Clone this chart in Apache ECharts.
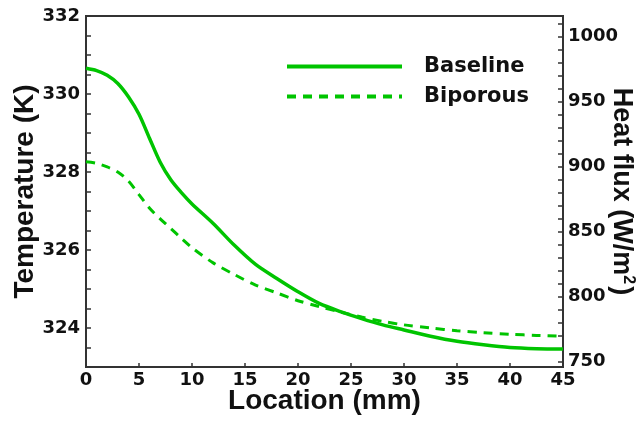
<!DOCTYPE html>
<html>
<head>
<meta charset="utf-8">
<script src="https://cdn.jsdelivr.net/npm/echarts@6/dist/echarts.min.js"></script>
<style>html,body{margin:0;padding:0;background:#fff}#c{width:644px;height:423px}</style>
</head>
<body>
<div id="c"></div>
<script>
var seriesNames = ['Baseline', 'Biporous'];
var location_mm = [0,1,2,3,4,5,6,7,8,9,10,12,14,16,18,20,22,24,26,28,30,32.5,35,37.5,40,42.5,45];
var baseline = [330.66,330.6,330.48,330.27,329.93,329.48,328.86,328.25,327.8,327.47,327.18,326.68,326.12,325.63,325.27,324.93,324.63,324.42,324.24,324.08,323.95,323.79,323.66,323.57,323.5,323.47,323.46];
var biporous = [328.26,328.22,328.13,328.0,327.77,327.42,327.07,326.8,326.55,326.3,326.06,325.67,325.37,325.1,324.9,324.7,324.55,324.41,324.28,324.17,324.08,324.0,323.93,323.88,323.84,323.81,323.79];
var xTicks = [0,5,10,15,20,25,30,35,40,45];
var tempLabels = [324,326,328,330,332];
var tempTicks = [323,323.5,324,324.5,325,325.5,326,326.5,327,327.5,328,328.5,329,329.5,330,330.5,331,331.5,332];
var fluxLabels = [750,800,850,900,950,1000];
var fluxTicks = [750,760,770,780,790,800,810,820,830,840,850,860,870,880,890,900,910,920,930,940,950,960,970,980,990,1000,1010];

function pairs(xs, ys){ return xs.map(function(x,i){ return [x, ys[i]]; }); }
function plain(v){ return String(v); }

var green = '#00c400';
var axisCol = '#333';
var tickFont = {fontFamily:'DejaVu Sans', fontWeight:'bold', fontSize:18, color:'#111'};
var titleFont = {fontFamily:'Liberation Sans', fontWeight:'bold', fontSize:28, color:'#111'};

var chart = echarts.init(document.getElementById('c'), null, {renderer:'canvas'});
chart.setOption({
  animation:false,
  backgroundColor:'#fff',
  grid:{left:86, right:81, top:16, bottom:56, containLabel:false, outerBoundsMode:'none', show:true, borderColor:axisCol, borderWidth:2, backgroundColor:'transparent'},
  legend:{
    orient:'vertical', left:285, top:56, padding:0, itemWidth:115, itemHeight:14, itemGap:9,
    data:seriesNames,
    itemStyle:{opacity:0},
    lineStyle:{width:4},
    textStyle:{fontFamily:'DejaVu Sans', fontWeight:'bold', fontSize:21, color:'#111', padding:[0,0,0,17]}
  },
  xAxis:{
    type:'value', min:0, max:45,
    name:'Location (mm)', nameLocation:'middle', nameGap:20, nameMoveOverlap:false, nameTextStyle:titleFont,
    axisLine:{lineStyle:{color:axisCol, width:2}},
    axisTick:{inside:true, length:4, lineStyle:{color:axisCol, width:1.5}, customValues:xTicks},
    axisLabel:Object.assign({margin:4, customValues:xTicks, formatter:plain}, tickFont),
    splitLine:{show:false}
  },
  yAxis:[{
    type:'value', min:323, max:332, position:'left',
    name:'Temperature (K)', nameLocation:'middle', nameGap:47, nameMoveOverlap:false, nameRotate:90, nameTextStyle:titleFont,
    axisLine:{show:true, lineStyle:{color:axisCol, width:2}},
    axisTick:{show:true, inside:true, length:5, lineStyle:{color:axisCol, width:1.5}, customValues:tempTicks},
    axisLabel:Object.assign({margin:6, customValues:tempLabels, formatter:plain}, tickFont),
    splitLine:{show:false}
  },{
    type:'value', min:746, max:1016, position:'right',
    name:'Heat flux (W/m{sup|2})', nameLocation:'middle', nameGap:43, nameMoveOverlap:false, nameRotate:-90,
    nameTextStyle:Object.assign({}, titleFont, {fontSize:27, rich:{sup:{fontFamily:'Liberation Sans', fontWeight:'bold', fontSize:16, color:'#111', verticalAlign:'top', padding:[0,2,14,0]}}}),
    axisLine:{show:true, lineStyle:{color:axisCol, width:2}},
    axisTick:{show:true, inside:true, length:5, lineStyle:{color:axisCol, width:1.5}, customValues:fluxTicks},
    axisLabel:Object.assign({margin:5, customValues:fluxLabels, formatter:plain}, tickFont),
    splitLine:{show:false}
  }],
  series:[{
    name:seriesNames[0], type:'line', yAxisIndex:0, smooth:0.3, symbol:'none',
    data:pairs(location_mm, baseline),
    lineStyle:{color:green, width:3.5}, itemStyle:{color:green}
  },{
    name:seriesNames[1], type:'line', yAxisIndex:0, smooth:0.3, symbol:'none',
    data:pairs(location_mm, biporous),
    lineStyle:{color:green, width:3, type:[9,7]}, itemStyle:{color:green}
  }]
});
</script>
</body>
</html>
